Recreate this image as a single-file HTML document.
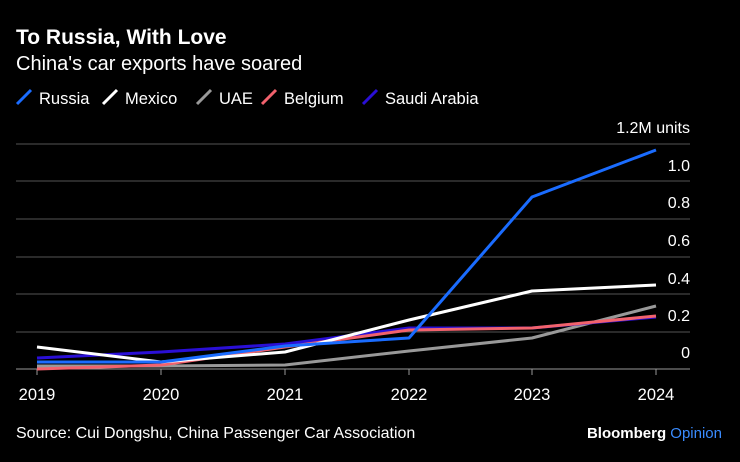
<!DOCTYPE html>
<html><head><meta charset="utf-8"><style>
body{margin:0;background:#000;width:740px;height:457px;overflow:hidden;font-family:"Liberation Sans",Arial,sans-serif;color:#fff}
</style></head><body>
<svg width="740" height="457" xmlns="http://www.w3.org/2000/svg" font-family="Liberation Sans, Arial, sans-serif">
<rect width="740" height="457" fill="#000"/>
<text x="16" y="44" font-size="21" font-weight="bold" fill="#fff">To Russia, With Love</text>
<text x="16" y="70" font-size="20" fill="#fff">China's car exports have soared</text>
<g font-size="16.5" fill="#fff">
<line x1="17" y1="104" x2="31" y2="90" stroke="#1a6cff" stroke-width="3"/><text x="39" y="104">Russia</text>
<line x1="103" y1="104" x2="117" y2="90" stroke="#fff" stroke-width="3"/><text x="125" y="104">Mexico</text>
<line x1="197" y1="104" x2="211" y2="90" stroke="#999" stroke-width="3"/><text x="219" y="104">UAE</text>
<line x1="262" y1="104" x2="276" y2="90" stroke="#f2626d" stroke-width="3"/><text x="284" y="104">Belgium</text>
<line x1="363" y1="104" x2="377" y2="90" stroke="#2a0fd6" stroke-width="3"/><text x="385" y="104">Saudi Arabia</text>
</g>
<g stroke="#555" stroke-width="1">
<line x1="16" y1="144" x2="690" y2="144"/>
<line x1="16" y1="181" x2="690" y2="181"/>
<line x1="16" y1="219" x2="690" y2="219"/>
<line x1="16" y1="257" x2="690" y2="257"/>
<line x1="16" y1="294" x2="690" y2="294"/>
<line x1="16" y1="332" x2="690" y2="332"/>
</g>
<line x1="16" y1="369" x2="690" y2="369" stroke="#999" stroke-width="1"/>
<g stroke="#999"><line x1="37" y1="369" x2="37" y2="375"/><line x1="161" y1="369" x2="161" y2="375"/><line x1="285" y1="369" x2="285" y2="375"/><line x1="409" y1="369" x2="409" y2="375"/><line x1="532" y1="369" x2="532" y2="375"/><line x1="656" y1="369" x2="656" y2="375"/></g>
<g font-size="16" fill="#fff" text-anchor="end">
<text x="690" y="133">1.2M units</text>
<text x="690" y="171">1.0</text>
<text x="690" y="208">0.8</text>
<text x="690" y="246">0.6</text>
<text x="690" y="284">0.4</text>
<text x="690" y="321">0.2</text>
<text x="690" y="358">0</text>
</g>
<g font-size="16.5" fill="#fff" text-anchor="middle">
<text x="37" y="400">2019</text><text x="161" y="400">2020</text><text x="285" y="400">2021</text><text x="409" y="400">2022</text><text x="532" y="400">2023</text><text x="656" y="400">2024</text>
</g>
<g fill="none" stroke-width="3" stroke-linejoin="round">
<polyline stroke="#999" points="37,366 161,366 285,365 409,351 532,338 656,306"/>
<polyline stroke="#2a0fd6" points="37,358 161,352 285,344 409,328 532,328 656,317"/>
<polyline stroke="#f2626d" points="37,369 161,365 285,347 409,330 532,328 656,316"/>
<polyline stroke="#fff" points="37,347 161,362 285,352 409,320 532,291 656,285"/>
<polyline stroke="#1a6cff" points="37,362 161,362 285,346 409,338 532,197 656,150"/>
</g>
<text x="16" y="438" font-size="16" fill="#fff">Source: Cui Dongshu, China Passenger Car Association</text>
<text x="722" y="438" font-size="15" text-anchor="end" font-weight="bold"><tspan fill="#fff">Bloomberg</tspan><tspan fill="#3a8cff" font-weight="normal"> Opinion</tspan></text>
</svg>
</body></html>
